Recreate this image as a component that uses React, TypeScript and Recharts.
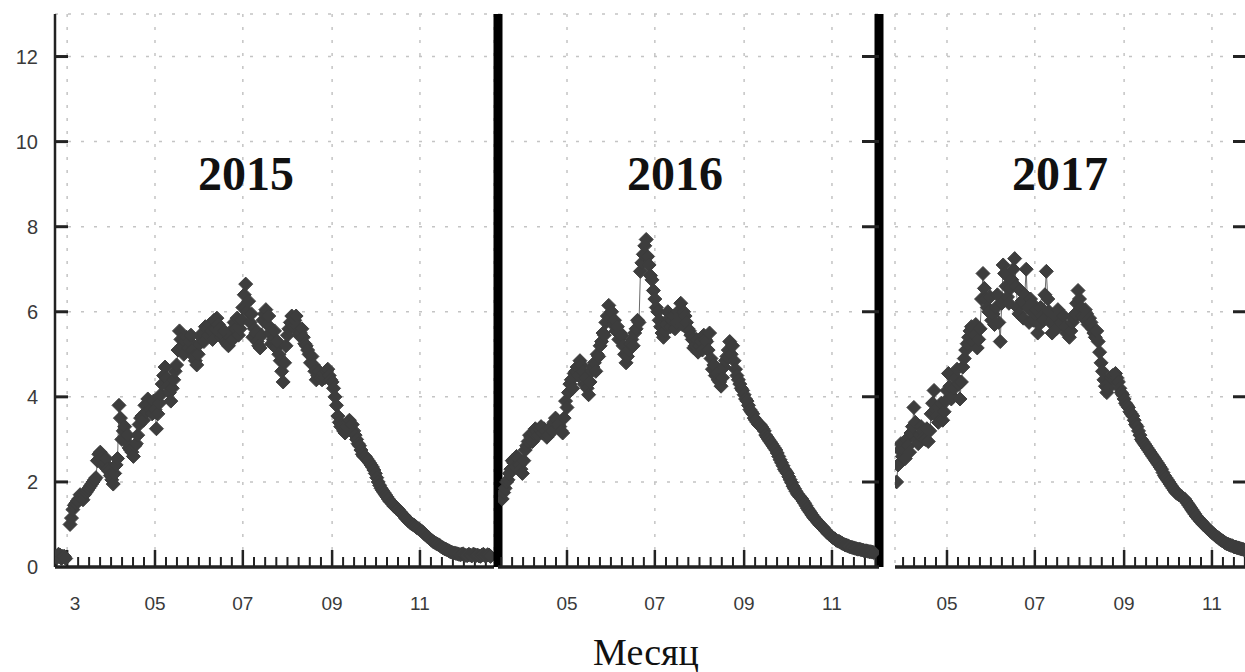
import { CartesianGrid, Line, LineChart, ReferenceLine, XAxis, YAxis } from 'recharts';

// values (day of year): one array for even days, one for the odd days between them

const start2015 = 52;
const evenDays2015: (number | null)[] = [
  0.25, 0.3, 0.2, 0.25, null,
  1.0, 1.35, 1.5, 1.6, 1.62, 1.7, 1.8, 1.9, 2.0, 2.1,
  2.65, 2.55, 2.45, 2.3, 2.15, 1.95, 2.4, 3.8, 3.0, 3.3,
  3.1, 2.75, 2.6, 2.9, 3.35, 3.55, 3.8, 3.95, 3.7, 3.9,
  3.25, 3.85, 4.3, 4.7, 4.25, 3.9, 4.4, 4.75, 5.55, 5.2,
  5.3, 5.15, 5.45, 4.95, 4.75, 5.25, 5.5, 5.65, 5.45, 5.55,
  5.8, 5.85, 5.6, 5.45, 5.3, 5.2, 5.55, 5.75, 5.85, 5.6,
  6.1, 6.65, 6.25, 5.95, 5.6, 5.3, 5.15, 5.8, 6.05, 5.9,
  5.25, 5.55, 5.3, 4.85, 4.35, 5.2, 5.6, 5.9, 5.8, 5.65,
  5.5, 5.4, 5.2, 5.0, 4.95, 4.6, 4.5, 4.45, 4.55, 4.6,
  4.5, 4.35, 4.0, 3.55, 3.3, 3.2, 3.3, 3.45, 3.35, 3.1,
  2.9, 2.75, 2.6, 2.55, 2.45, 2.35, 2.2, 2.0, 1.85, 1.75,
  1.65, 1.55, 1.48, 1.4, 1.35, 1.27, 1.2, 1.12, 1.05, 1.0,
  0.95, 0.9, 0.85, 0.78, 0.72, 0.66, 0.6, 0.56, 0.52, 0.47,
  0.43, 0.4, 0.36, 0.33, 0.32, 0.3, 0.3, 0.28, 0.27, 0.28,
  0.3, 0.27, 0.26, 0.28, 0.27, 0.29, 0.25,
];
const oddDays2015: (number | null)[] = [
  0.22, 0.28, 0.25, 0.2, null, 1.15, 1.45, 1.55, 1.7, 1.58,
  1.75, 1.85, 1.95, 2.05, 2.5, 2.7, 2.4, 2.55, 2.25, 2.05,
  2.2, 2.55, 3.5, 3.2, 2.95, 2.8, 2.7, 2.85, 3.1, 3.5,
  3.45, 3.65, 3.85, 3.6, 3.7, 3.6, 4.05, 4.5, 4.45, 4.1,
  4.2, 4.6, 5.1, 5.35, 5.0, 5.4, 5.3, 5.1, 4.85, 5.0,
  5.4, 5.3, 5.6, 5.7, 5.35, 5.6, 5.7, 5.4, 5.55, 5.25,
  5.4, 5.35, 5.6, 5.45, 5.8, 6.4, 6.0, 5.75, 5.4, 5.5,
  5.2, 5.45, 5.95, 5.7, 5.5, 5.35, 5.15, 5.0, 4.6, 4.8,
  5.45, 5.75, 5.65, 5.9, 5.45, 5.6, 5.25, 5.1, 4.8, 4.75,
  4.4, 4.6, 4.4, 4.45, 4.65, 4.4, 4.2, 3.8, 3.4, 3.35,
  3.15, 3.4, 3.35, 3.2, 3.0, 2.85, 2.65, 2.6, 2.5, 2.4,
  2.28, 2.1, 1.92, 1.8, 1.7, 1.6, 1.52, 1.43, 1.38, 1.3,
  1.23, 1.15, 1.08, 1.02, 0.98, 0.92, 0.87, 0.82, 0.75, 0.69,
  0.63, 0.58, 0.54, 0.5, 0.45, 0.42, 0.38, 0.35, 0.33, 0.31,
  0.29, 0.31, 0.27, 0.3, 0.26, 0.29, 0.28, 0.25, 0.3, 0.26,
  0.28,
];

const start2016 = 76;
const evenDays2016: (number | null)[] = [
  1.6, 1.85, 2.05, 2.3, 2.45, 2.6, 2.4, 2.2, 2.75, 2.95,
  3.05, 3.15, 3.2, 3.25, 3.15, 3.2, 3.1, 3.3, 3.4, 3.45,
  3.3, 3.15, 3.9, 4.1, 4.4, 4.55, 4.7, 4.85, 4.6, 4.45,
  4.05, 4.6, 4.8, 5.0, 5.2, 5.5, 5.75, 6.15, 6.0, 5.8,
  5.65, 5.5, 5.2, 4.8, 5.1, 5.35, 5.5, 5.8, 6.95, 7.35,
  7.7, 7.1, 6.75, 6.3, 6.0, 5.65, 5.4, 5.7, 5.85, 5.8,
  5.6, 6.0, 6.2, 6.0, 5.75, 5.55, 5.35, 5.2, 5.05, 5.3,
  5.45, 5.3, 5.5, 4.65, 4.5, 4.4, 4.25, 4.7, 4.95, 5.3,
  5.2, 4.65, 4.4, 4.2, 4.05, 3.9, 3.7, 3.6, 3.45, 3.35,
  3.3, 3.2, 3.05, 2.95, 2.85, 2.75, 2.6, 2.45, 2.3, 2.2,
  2.05, 1.9, 1.78, 1.68, 1.6, 1.5, 1.38, 1.28, 1.18, 1.1,
  1.02, 0.95, 0.88, 0.8, 0.74, 0.68, 0.63, 0.6, 0.56, 0.52,
  0.5, 0.47, 0.45, 0.43, 0.42, 0.4, 0.38, 0.37, 0.36, 0.34,
];
const oddDays2016: (number | null)[] = [
  1.75, 2.0, 2.2, 2.5, 2.35, 2.55, 2.3, 2.5, 2.85, 3.1,
  2.95, 3.25, 3.1, 3.3, 3.25, 3.05, 3.25, 3.2, 3.5, 3.35,
  3.2, 3.5, 3.75, 4.3, 4.2, 4.6, 4.5, 4.75, 4.3, 4.2,
  4.35, 4.7, 4.6, 4.95, 5.3, 5.45, 5.9, 5.85, 5.7, 5.55,
  5.35, 5.45, 5.0, 4.95, 5.25, 5.2, 5.6, 5.75, 7.15, 7.55,
  7.3, 6.85, 6.5, 6.1, 5.8, 5.5, 5.55, 6.0, 5.65, 5.9,
  5.75, 5.9, 5.7, 5.9, 5.6, 5.45, 5.15, 5.35, 5.2, 5.1,
  5.35, 5.1, 4.9, 4.75, 4.55, 4.35, 4.45, 4.85, 5.1, 5.0,
  4.85, 4.5, 4.3, 4.15, 3.95, 3.8, 3.65, 3.5, 3.4, 3.35,
  3.25, 3.1, 3.0, 2.9, 2.8, 2.68, 2.52, 2.38, 2.25, 2.12,
  1.98, 1.84, 1.72, 1.64, 1.55, 1.44, 1.33, 1.23, 1.14, 1.06,
  0.98, 0.92, 0.84, 0.77, 0.71, 0.66, 0.61, 0.58, 0.54, 0.51,
  0.48, 0.46, 0.44, 0.42, 0.41, 0.39, 0.38, 0.36, 0.35,
];

const start2017 = 86;
const evenDays2017: (number | null)[] = [
  2.0, 2.75, 2.6, 2.55, 2.85, 3.15, 3.75, 3.0, 3.1, 3.2,
  3.0, 2.95, 3.6, 4.15, 3.55, 3.7, 3.45, 3.9, 4.55, 3.95,
  4.2, 4.65, 3.95, 4.7, 5.1, 5.4, 5.65, 5.45, 5.15, 5.6,
  6.9, 6.3, 6.0, 5.8, 5.7, 6.4, 5.3, 7.1, 6.6, 6.2,
  6.75, 7.25, 6.1, 6.5, 5.85, 7.0, 5.75, 6.2, 5.95, 5.5,
  6.1, 5.8, 6.95, 6.0, 5.5, 5.9, 6.05, 5.75, 5.9, 5.5,
  5.4, 5.75, 5.95, 6.5, 6.1, 5.85, 5.95, 5.85, 5.6, 5.4,
  5.3, 4.8, 4.4, 4.1, 4.35, 4.5, 4.55, 4.35, 4.1, 3.95,
  3.8, 3.65, 3.55, 3.35, 3.2, 3.0, 2.9, 2.8, 2.7, 2.6,
  2.5, 2.4, 2.3, 2.15, 2.05, 1.95, 1.85, 1.75, 1.7, 1.65,
  1.6, 1.5, 1.4, 1.3, 1.2, 1.12, 1.05, 0.98, 0.9, 0.84,
  0.78, 0.72, 0.67, 0.62, 0.57, 0.54, 0.51, 0.48, 0.46, 0.44,
  0.42, 0.4,
];
const oddDays2017: (number | null)[] = [
  2.4, 2.9, 2.75, 3.0, 2.7, 3.3, 3.4, 2.9, 3.3, 3.05,
  3.25, 3.2, 3.85, 3.7, 3.4, 3.85, 3.65, 4.15, 4.25, 4.0,
  4.45, 4.3, 4.35, 4.9, 5.25, 5.55, 5.3, 5.7, 5.35, 6.3,
  6.55, 6.1, 6.35, 5.95, 6.1, 5.75, 6.2, 6.9, 6.35, 6.55,
  7.0, 6.6, 5.95, 6.25, 6.4, 6.1, 6.3, 5.8, 6.05, 5.7,
  5.9, 6.4, 6.3, 5.75, 5.85, 5.6, 5.95, 5.7, 5.65, 5.6,
  5.55, 5.85, 6.2, 6.3, 5.9, 6.05, 5.7, 5.75, 5.5, 5.55,
  5.05, 4.6, 4.25, 4.2, 4.45, 4.4, 4.45, 4.2, 4.05, 3.85,
  3.75, 3.6, 3.45, 3.3, 3.1, 2.95, 2.85, 2.75, 2.65, 2.55,
  2.45, 2.35, 2.22, 2.1, 2.0, 1.9, 1.8, 1.72, 1.68, 1.62,
  1.55, 1.45, 1.35, 1.25, 1.16, 1.08, 1.0, 0.94, 0.87, 0.81,
  0.75, 0.7, 0.64, 0.6, 0.55, 0.52, 0.5, 0.47, 0.45, 0.43,
  0.41,
];

// first day of the labelled (odd) months, and their labels
const monthTicks = [60, 121, 182, 244, 305];
const monthLabels = ['3', '05', '07', '09', '11'];
const oddMonthStarts = [1, 60, 121, 182, 244, 305, 366];
const yTicks = [0, 2, 4, 6, 8, 10, 12];
const yInnerTicks = [2, 4, 6, 8, 10, 12];

const minorTicks: number[] = [];
for (let i = 0; i < oddMonthStarts.length - 1; i++) {
  const a = oddMonthStarts[i];
  const b = oddMonthStarts[i + 1];
  for (let k = 1; k < 8; k++) minorTicks.push(a + ((b - a) * k) / 8);
}

// daily rows: even day, then the odd day after it
const toRows = (start: number, even: (number | null)[], odd: (number | null)[]) => {
  const rows: { day: number; v: number | null }[] = [];
  even.forEach((v, i) => {
    rows.push({ day: start + i * 2, v });
    if (i < odd.length) rows.push({ day: start + i * 2 + 1, v: odd[i] });
  });
  return rows;
};

const INK = '#222';
const MARK = '#3d3d3d';
const SANS = 'Liberation Sans, Arial, sans-serif';
const SERIF = 'Liberation Serif, Times New Roman, serif';

const Diamond = (props: any) => {
  const { cx, cy, index, value } = props;
  if (cx == null || cy == null || value == null) return <g key={index} />;
  const r = 7;
  return (
    <polygon
      key={index}
      points={`${cx},${cy - r} ${cx + r},${cy} ${cx},${cy + r} ${cx - r},${cy}`}
      fill={MARK}
      stroke={MARK}
      strokeWidth={1}
      strokeLinejoin="round"
    />
  );
};

const NoLabel = () => <g />;

const MonthTick = (props: any) => {
  const { x, y, payload } = props;
  const idx = monthTicks.indexOf(payload.value);
  const label = idx >= 0 ? monthLabels[idx] : '';
  return (
    <text
      x={x + (payload.value === 60 ? 8 : 0)}
      y={y}
      dy={15}
      textAnchor="middle"
      fill="#3a3a3a"
      fontSize={19}
      fontFamily={SANS}
    >
      {label}
    </text>
  );
};

// value label on the left plus the short inward tick at the axis
const ValueTick = (props: any) => {
  const { x, y, payload } = props;
  return (
    <g>
      <text
        x={x}
        y={y}
        dy={7}
        textAnchor="end"
        fill="#3a3a3a"
        fontSize={20}
        fontFamily={SANS}
      >
        {payload.value}
      </text>
      {payload.value > 0 && (
        <line x1={x + 17} x2={x + 30} y1={y} y2={y} stroke={INK} strokeWidth={3} />
      )}
    </g>
  );
};

interface PanelProps {
  rows: { day: number; v: number | null }[];
  domain: [number, number];
  left: number;
  width: number;
  margin: { top: number; right: number; left: number; bottom: number };
  first?: boolean;
  dividers?: boolean;
  rightTickDash?: string;
}

function YearPanel({ rows, domain, left, width, margin, first, dividers, rightTickDash }: PanelProps) {
  const ticks = monthTicks.filter(t => t >= domain[0] && t <= domain[1]);
  const majors = oddMonthStarts.filter(t => t >= domain[0] && t <= domain[1]);
  const minors = minorTicks.filter(t => t >= domain[0] && t <= domain[1]);
  return (
    <div style={{ position: 'absolute', left, top: 0 }}>
      <LineChart width={width} height={630} data={rows} margin={margin}>
        <CartesianGrid
          xAxisId="lab"
          yAxisId="y"
          stroke="#c4c4c4"
          strokeWidth={1.5}
          strokeDasharray="3 10"
        />
        <XAxis
          xAxisId="lab"
          dataKey="day"
          type="number"
          domain={domain}
          allowDataOverflow
          ticks={ticks}
          interval={0}
          height={60}
          tickLine={false}
          tickSize={0}
          tickMargin={28}
          axisLine={{ stroke: INK, strokeWidth: 3.5 }}
          tick={<MonthTick />}
        />
        <XAxis
          xAxisId="major"
          dataKey="day"
          type="number"
          domain={domain}
          allowDataOverflow
          ticks={majors}
          interval={0}
          mirror
          height={1}
          axisLine={false}
          tick={<NoLabel />}
          tickSize={17}
          tickLine={{ stroke: INK, strokeWidth: 2.5 }}
        />
        <XAxis
          xAxisId="minor"
          dataKey="day"
          type="number"
          domain={domain}
          allowDataOverflow
          ticks={minors}
          interval={0}
          mirror
          height={1}
          axisLine={false}
          tick={<NoLabel />}
          tickSize={9}
          tickLine={{ stroke: INK, strokeWidth: 2 }}
        />
        {first ? (
          <YAxis
            yAxisId="y"
            type="number"
            domain={[0, 13]}
            ticks={yTicks}
            interval={0}
            width={55}
            tickLine={false}
            tickSize={0}
            tickMargin={17}
            axisLine={{ stroke: INK, strokeWidth: 2.5 }}
            tick={<ValueTick />}
          />
        ) : (
          <YAxis
            yAxisId="y"
            orientation="right"
            type="number"
            domain={[0, 13]}
            ticks={yInnerTicks}
            interval={0}
            mirror
            width={1}
            axisLine={false}
            tick={<NoLabel />}
            tickSize={26}
            tickLine={{ stroke: INK, strokeWidth: 3, strokeDasharray: rightTickDash }}
          />
        )}
        <Line
          xAxisId="lab"
          yAxisId="y"
          type="linear"
          dataKey="v"
          stroke="#6a6a6a"
          strokeWidth={1}
          dot={Diamond}
          activeDot={false}
          connectNulls={false}
          isAnimationActive={false}
        />
        {dividers && (
          <ReferenceLine
            xAxisId="lab"
            yAxisId="y"
            x={domain[0]}
            stroke="#000"
            strokeWidth={9}
            ifOverflow="visible"
          />
        )}
        {dividers && (
          <ReferenceLine
            xAxisId="lab"
            yAxisId="y"
            x={domain[1]}
            stroke="#000"
            strokeWidth={9}
            ifOverflow="visible"
          />
        )}
      </LineChart>
    </div>
  );
}

const titleStyle = (center: number): React.CSSProperties => ({
  position: 'absolute',
  left: center,
  top: 150,
  transform: 'translateX(-50%)',
  fontFamily: SERIF,
  fontWeight: 'bold',
  fontSize: 48,
  lineHeight: 1,
  color: '#111',
  whiteSpace: 'nowrap',
});

export default function App() {
  const rows2015 = toRows(start2015, evenDays2015, oddDays2015);
  const rows2016 = toRows(start2016, evenDays2016, oddDays2016);
  const rows2017 = toRows(start2017, evenDays2017, oddDays2017);
  return (
    <div
      style={{
        position: 'absolute',
        left: 0,
        top: 0,
        width: 1245,
        height: 672,
        overflow: 'hidden',
        background: '#fff',
      }}
    >
      <YearPanel
        rows={rows2015}
        domain={[51.56, 356.42]}
        left={0}
        width={500}
        margin={{ top: 14, right: 6, left: 0, bottom: 3 }}
        first
      />
      <YearPanel
        rows={rows2016}
        domain={[73.08, 337.66]}
        left={488}
        width={401}
        margin={{ top: 14, right: 10, left: 10, bottom: 3 }}
        dividers
        rightTickDash="0 9 17 40"
      />
      <YearPanel
        rows={rows2017}
        domain={[84.89, 332.81]}
        left={885}
        width={377}
        margin={{ top: 14, right: 10, left: 10, bottom: 3 }}
        rightTickDash="0 7 19 40"
      />
      <div style={titleStyle(246)}>2015</div>
      <div style={titleStyle(675)}>2016</div>
      <div style={titleStyle(1060)}>2017</div>
      <div
        style={{
          position: 'absolute',
          left: 646,
          top: 633,
          transform: 'translateX(-50%)',
          fontFamily: SERIF,
          fontSize: 38,
          lineHeight: 1,
          color: '#111',
          whiteSpace: 'nowrap',
        }}
      >
        Месяц
      </div>
    </div>
  );
}
